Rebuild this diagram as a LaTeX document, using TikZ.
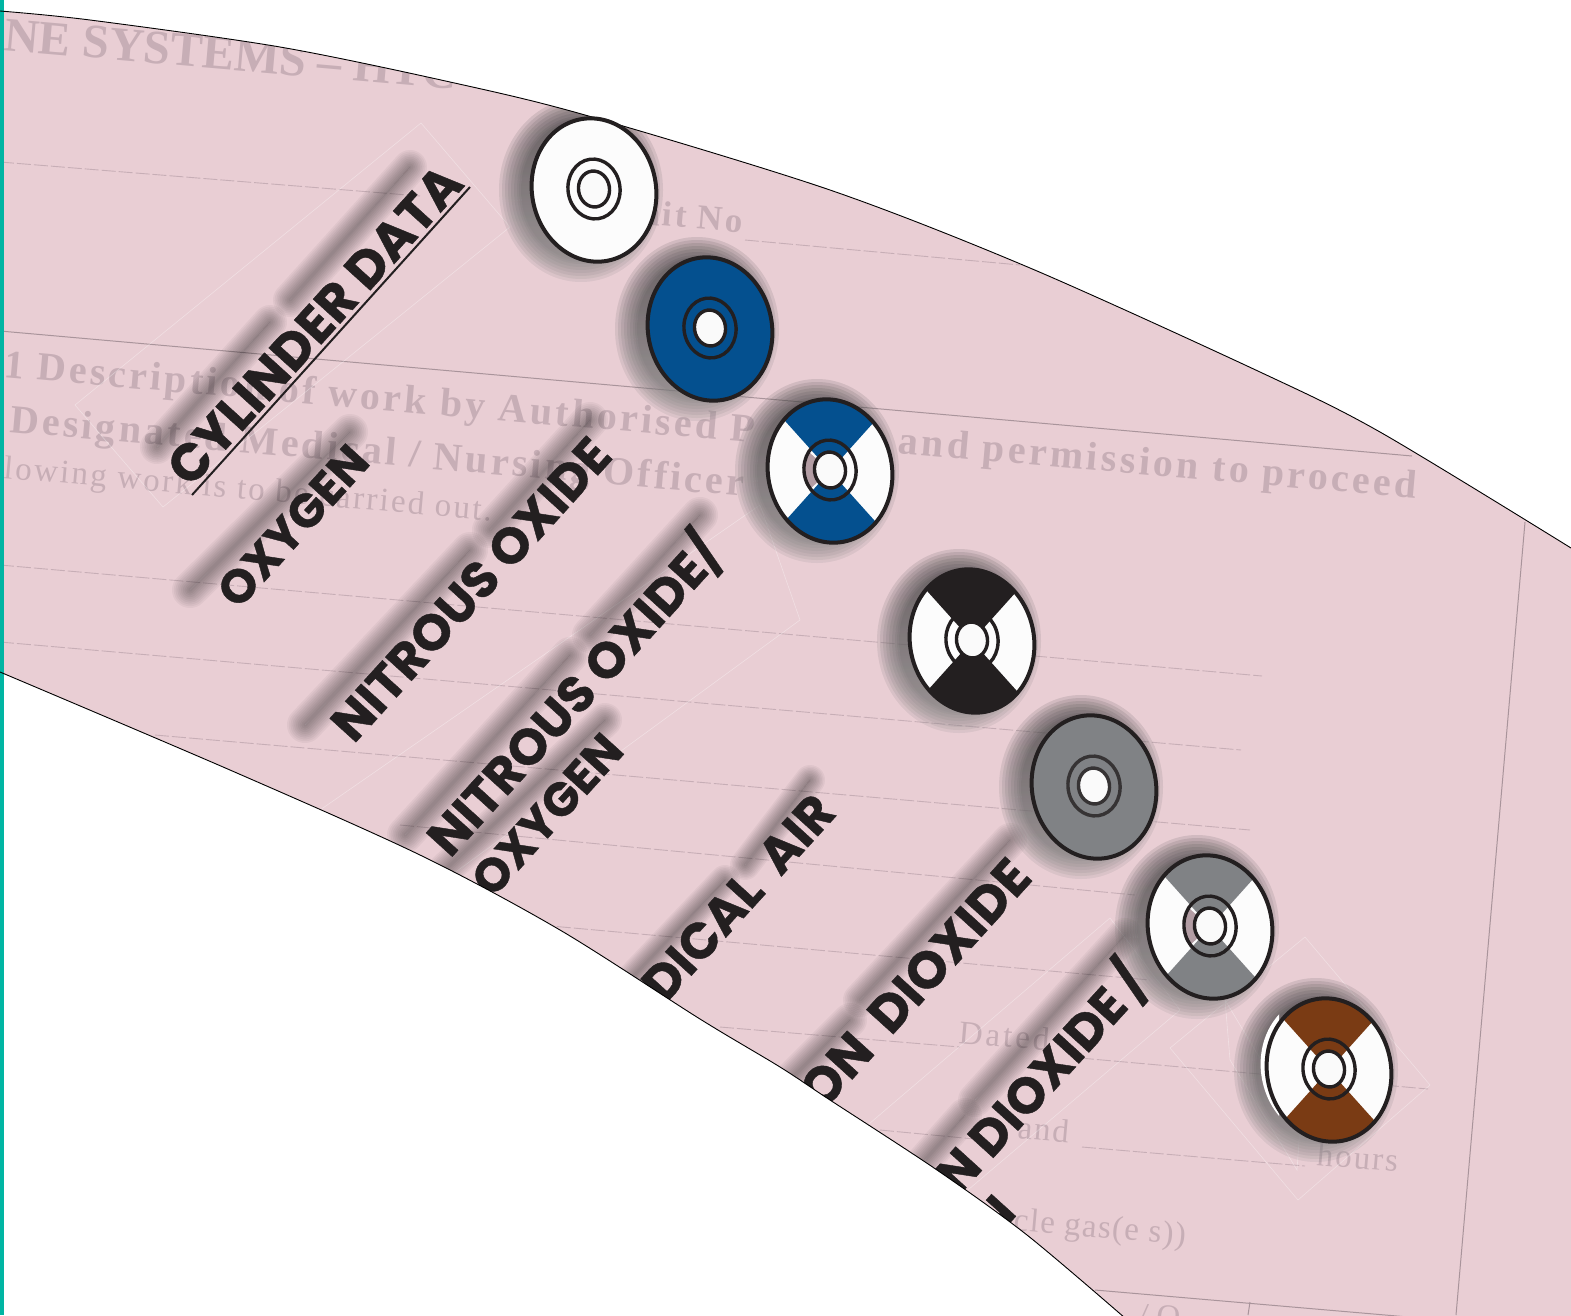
\documentclass[tikz,border=0pt]{standalone}
\usepackage{fontspec}
\setmainfont{Liberation Serif}
\newfontfamily\labfont[BoldFeatures={FakeBold=0.8}]{Poppins}
\usetikzlibrary{calc}
\definecolor{bandpink}{HTML}{E9CED4}
\definecolor{faint}{HTML}{C7AEB6}
\definecolor{ink}{HTML}{231F20}
\definecolor{oxblue}{HTML}{04508F}
\definecolor{cgray}{HTML}{808285}
\definecolor{brownc}{HTML}{7A3B14}
\definecolor{teal}{HTML}{00B5A3}
\definecolor{shade}{HTML}{5A4048}
\tikzset{
 x=1pt,y=-1pt,
 bigtext/.style={text=ink,font=\labfont\bfseries\fontsize{50.5}{54}\selectfont,inner sep=0pt,rotate=47.8,anchor=base},
 oxytext/.style={bigtext,font=\labfont\bfseries\fontsize{47}{50}\selectfont},
 cyltext/.style={bigtext,font=\labfont\bfseries\fontsize{52}{54}\selectfont},
 fbold/.style 2 args={text=faint,font=\bfseries\fontsize{#1}{#1}\selectfont\addfontfeature{LetterSpace=#2},inner sep=0pt,anchor=base west,rotate=-5},
 freg/.style 2 args={text=faint,font=\fontsize{#1}{#1}\selectfont\addfontfeature{LetterSpace=#2},inner sep=0pt,anchor=base west,rotate=-5},
 dashline/.style={draw=faint,line width=0.9pt,dash pattern=on 14pt off 3pt},
 solidline/.style={draw=faint!85!black,line width=1pt},
 ghost/.style={draw=white,opacity=.35,line width=0.6pt},
 edge/.style={draw=black,line width=0.9pt},
}
\newcommand{\upperedge}{(0,11) (90,20) (280,47) (450,82) (585,115) (830,190) (1030,268) (1260,372) (1380,432) (1571,548)}
\newcommand{\loweredge}{(1125,1318) (1027,1235) (937,1170) (830,1100) (780,1067) (700,1019) (560,930) (420,855) (230,770) (0,672)}
\newcommand{\softline}[3]{%
  \foreach \w in {1,.9,.8,.7,.6,.5,.4,.3,.2,.1}{\draw[shade,opacity=.04,line cap=round,line width=\w*#3 pt] #1 -- #2;}}
\newcommand{\softdisc}[2]{%
  \foreach \w in {20,17,14,11,8,5,2,0,-2}{\fill[shade,opacity=.07] (#1-13,#2) ellipse [x radius=62+\w,y radius=72+\w];}}
\newcommand{\plaindisc}[4]{%
  \path[fill=#3,draw=ink,line width=4pt] (#1,#2) ellipse [x radius=62,y radius=72,rotate=11];
  \draw[#4,line width=3.4pt] (#1,#2-1) ellipse [x radius=26,y radius=30,rotate=8];
  \path[fill=white!98!black,draw=#4,line width=3.4pt] (#1,#2-1) ellipse [x radius=15.5,y radius=18,rotate=8];}
\newcommand{\crossdisc}[4]{%
  \begin{scope}
    \clip (#1,#2) ellipse [x radius=62,y radius=72,rotate=11];
    \fill[white!99!black] (#1-70,#2-80) rectangle (#1+70,#2+80);
    \fill[#3] (#1,#2) -- ++(-88,-98) -- ++(176,0) -- cycle;
    \fill[#3] (#1,#2) -- ++(-88,98) -- ++(176,0) -- cycle;
  \end{scope}
  \begin{scope}
    \clip (#1,#2-1) ellipse [x radius=26,y radius=30,rotate=8];
    \fill[#4] (#1,#2) -- ++(-60,-54) -- ++(0,108) -- cycle;
  \end{scope}
  \draw[ink,line width=4pt] (#1,#2) ellipse [x radius=62,y radius=72,rotate=11];
  \draw[ink,line width=3.4pt] (#1,#2-1) ellipse [x radius=26,y radius=30,rotate=8];
  \path[fill=white!98!black,draw=ink,line width=3.4pt] (#1,#2-1) ellipse [x radius=15.5,y radius=18,rotate=8];}
\begin{document}
\begin{tikzpicture}
\useasboundingbox (0,0) rectangle (1571,1315);
\fill[white] (0,0) rectangle (1571,1315);
% band
\fill[bandpink] plot[smooth,tension=.5] coordinates {\upperedge} -- (1571,1318) -- plot[smooth,tension=.5] coordinates {\loweredge} -- cycle;
\begin{scope}
\clip plot[smooth,tension=.5] coordinates {\upperedge} -- (1571,1318) -- plot[smooth,tension=.5] coordinates {\loweredge} -- cycle;
% faint form
\draw[solidline] (0,331) -- (1412,456);
\draw[solidline] (1525,522) -- (1456,1315);
\draw[solidline] (1095,1290) -- (1571,1331);
\draw[solidline] (1250,1302) -- (1248,1315);
\draw[dashline] (0,162) -- (420,196);
\draw[dashline] (745,240) -- (1020,265);
\draw[dashline] (0,565) -- (1262,676);
\draw[dashline] (0,642) -- (1241,750);
\draw[dashline] (155,735) -- (1250,830);
\draw[dashline] (400,825) -- (1135,895);
\draw[dashline] (540,925) -- (1150,980);
\draw[dashline] (720,1027) -- (960,1047);
\draw[dashline] (1080,1058) -- (1428,1089);
\draw[dashline] (880,1130) -- (985,1140);
\draw[dashline] (1082,1147) -- (1305,1166);
\node (ftitle) [fbold={48}{0}] at (3,50) {NE SYSTEMS – HTC};
\node (funit) [fbold={35}{7}] at (640,224) {nit No};
\node (fdesc) [fbold={40}{8}] at (3,377) {1 Description of work by Authorised P};
\node (fperm) [fbold={40}{8.5}] at (897,453) {and permission to proceed};
\node (fdesig) [fbold={40}{8}] at (9,432) {Designated Medical / Nursing Officer};
\node (flow) [freg={33}{7}] at (3,478) {lowing work is to be carried out.};
\node (fdated) [freg={33}{9}] at (958,1043) {Dated};
\node (fand) [freg={33}{5}] at (1017,1138) {and};
\node (fhours) [freg={33}{6}] at (1316,1165) {hours};
\node (fgas) [freg={33}{4}] at (1013,1230) {cle gas(e s))};
\node (fo) [freg={33}{0}] at (1138,1325) {/ O};
% ghost boxes
\draw[ghost] (421,123) -- (510,227) -- (163,507) -- (75,405) -- cycle;
\draw[ghost] (760,505) -- (800,620) -- (390,920) -- (320,810) -- cycle;
\draw[ghost] (1110,918) -- (1180,1010) -- (850,1290) -- (780,1200) -- cycle;
\draw[ghost] (1305,937) -- (1430,1085) -- (1298,1200) -- (1170,1048) -- cycle;
\draw[ghost] (1225,1000) -- (1300,1125) -- (1297,1170) -- (1230,1060) -- cycle;
% text shadows
\softline{(157,447)}{(270,322)}{34}
\softline{(290,300)}{(410,167)}{34}
\softline{(190,590)}{(350,432)}{36}
\softline{(305,725)}{(470,550)}{36}
\softline{(490,530)}{(590,420)}{36}
\softline{(405,835)}{(570,655)}{36}
\softline{(590,635)}{(700,515)}{36}
\softline{(445,870)}{(605,720)}{34}
\softline{(625,985)}{(725,880)}{30}
\softline{(745,865)}{(810,780)}{30}
\softline{(790,1080)}{(850,1020)}{34}
\softline{(860,1000)}{(1010,840)}{34}
\softline{(925,1160)}{(965,1115)}{34}
\softline{(975,1100)}{(1125,935)}{34}
% disc shadows
\softdisc{594}{190}\softdisc{710}{329}\softdisc{830}{471}\softdisc{972}{641}
\softdisc{1094}{787}\softdisc{1210}{927}\softdisc{1329}{1070}
% black labels
\draw[ink,line width=2pt] (192,495) -- (470,187);
\node (lcyl) [cyltext] at (328,337) {CYLINDER DATA};
\node (lox) [oxytext] at (305,537) {OXYGEN};
\node (lnit) [bigtext] at (484,601) {NITROUS OXIDE};
\node (lnito) [bigtext] at (588,707) {NITROUS OXIDE/};
\node (lnitox) [oxytext,anchor=base east] at (626,752) {OXYGEN};
\node (lair) [bigtext,anchor=base east] at (838,814) {MEDICAL\ \ AIR};
\node (lco) [cyltext,anchor=base east] at (1034,879) {CARBON\ \ DIOXIDE};
\node (lcoo) [bigtext,anchor=base east] at (1151,984) {CARBON DIOXIDE\,/};
\node (lcoox) [oxytext,anchor=base east] at (1018,1214) {OXYGEN};
\end{scope}
% left rule
\fill[teal] (0,0) rectangle (3.5,1315);
% band edges
\draw[edge] plot[smooth,tension=.5] coordinates {\upperedge};
\draw[edge] plot[smooth,tension=.5] coordinates {\loweredge};
% discs
\plaindisc{594}{190}{white!99!black}{ink}
\plaindisc{710}{329}{oxblue}{ink}
\crossdisc{830}{471}{oxblue}{faint!90!black}
\crossdisc{972}{641}{ink}{white}
\plaindisc{1094}{787}{cgray}{ink!80!cgray}
\crossdisc{1210}{927}{cgray}{faint!90!black}
\begin{scope}
\clip (1255,1000) rectangle (1279,1120);
\fill[white] (1323,1068) ellipse [x radius=62,y radius=72,rotate=11];
\end{scope}
\crossdisc{1329}{1070}{brownc}{white}
\end{tikzpicture}
\end{document}
